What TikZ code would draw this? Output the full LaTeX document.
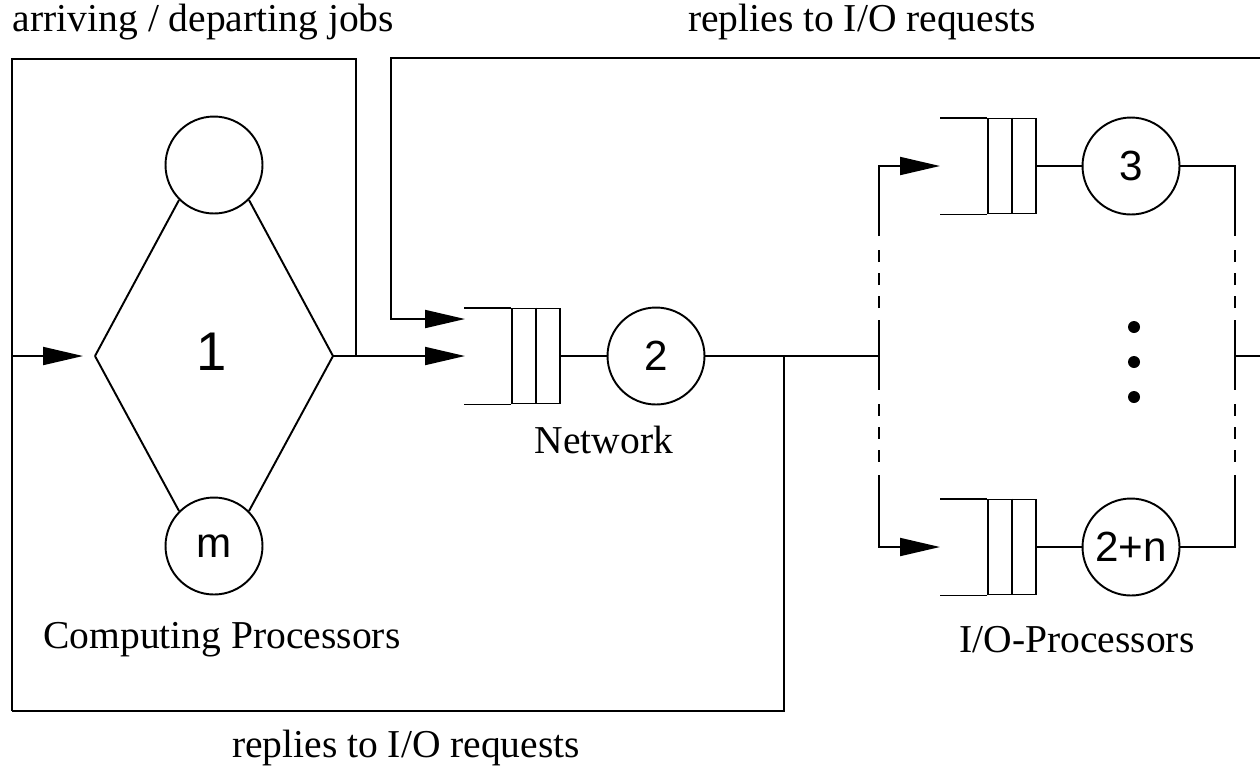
\documentclass[tikz,border=0pt]{standalone}
\usepackage{fontspec}
\setmainfont{Liberation Serif}
\setsansfont{Liberation Sans}
\usetikzlibrary{arrows.meta}

\begin{document}
\begin{tikzpicture}
        [x=0.02cm,y=-0.02cm,line width=1.1pt,
         server/.style={draw,shape=circle,inner sep=0,minimum size=1.94cm,font=\sffamily\fontsize{24}{28}\selectfont},
         buffer/.style={draw,shape=rectangle,inner sep=0,minimum width=0.95cm,minimum height=1.9cm},
         caption/.style={inner sep=0,font=\fontsize{22.5}{27}\selectfont},
         arr/.style={-{Triangle[length=0.8cm,width=0.36cm]}},
         gap/.style={dash pattern=on 0.24cm off 0.22cm}]

        \useasboundingbox (0,0) rectangle (1260,769);

        % computing processors
        \node[server] (cpu1) at (214,165) {};
        \node[server] (cpum) at (214,546) {m};
        \node[inner sep=0,font=\sffamily\fontsize{31}{35}\selectfont] (one) at (212,352) {1};
        \coordinate (dl) at (95,356);
        \coordinate (dr) at (333,356);
        \draw (dl) -- (cpu1.225);
        \draw (dl) -- (cpum.135);
        \draw (dr) -- (cpu1.315);
        \draw (dr) -- (cpum.45);

        % network
        \node[buffer] (q2) at (536,356) {};
        \draw (q2.north) -- (q2.south);
        \draw (q2.north west) -- ++(-47,0);
        \draw (q2.south west) -- ++(-47,0);
        \node[server] (net) at (656,356) {2};
        \draw (q2.east) -- (net);
        \coordinate (q2in) at (465,356);
        \coordinate (q2fb) at (465,319);

        % i/o processors
        \node[buffer] (q3) at (1012,166) {};
        \draw (q3.north) -- (q3.south);
        \draw (q3.north west) -- ++(-47,0);
        \draw (q3.south west) -- ++(-47,0);
        \node[server] (io3) at (1131,166) {3};
        \draw (q3.east) -- (io3);
        \coordinate (q3in) at (940,166);

        \node[buffer] (qn) at (1012,547) {};
        \draw (qn.north) -- (qn.south);
        \draw (qn.north west) -- ++(-47,0);
        \draw (qn.south west) -- ++(-47,0);
        \node[server] (ion) at (1131,547) {2+n};
        \draw (qn.east) -- (ion);
        \coordinate (qnin) at (940,547);

        \foreach \y in {327,362,397}
          \fill (1134,\y) circle (0.12cm);

        % fork and join
        \coordinate (fork) at (879,356);
        \coordinate (forkT) at (879,236);
        \coordinate (forkB) at (879,475);
        \coordinate (join) at (1235,356);
        \coordinate (joinT) at (1235,236);
        \coordinate (joinB) at (1235,475);

        \draw (net) -- (fork);
        \draw (fork) -- ++(0,-36) (fork) -- ++(0,34);
        \draw[gap] (fork) ++(0,-48) -- ++(0,-58) (fork) ++(0,48) -- ++(0,58);
        \draw[arr] (forkT) |- (q3in);
        \draw[arr] (forkB) |- (qnin);

        \draw (io3.east) -| (joinT);
        \draw (ion.east) -| (joinB);
        \draw (join) -- ++(0,-36) (join) -- ++(0,34);
        \draw[gap] (join) ++(0,-48) -- ++(0,-58) (join) ++(0,48) -- ++(0,58);

        % feedback loops
        \coordinate (src) at (12,356);
        \coordinate (bl) at (12,711);
        \coordinate (tl) at (12,59);
        \coordinate (tr) at (356,59);
        \coordinate (dep) at (356,356);
        \coordinate (tap) at (784,356);
        \coordinate (outR) at (1260,356);
        \coordinate (inT) at (1260,58);
        \coordinate (ret) at (391,58);

        \draw (bl) -- (tl) -- (tr) -- (dep);
        \draw[arr,shorten >=0.24cm] (src) -- (dl);
        \draw[arr] (dr) -- (q2in);
        \draw (tap) |- (bl);
        \draw (join) -- (outR);
        \draw[arr] (inT) -- (ret) |- (q2fb);

        % labels
        \node[caption,anchor=west] (jobs) at (12,22) {arriving / departing jobs};
        \node[caption] (replyT) at (862,22) {replies to I/O requests};
        \node[caption] (netlbl) at (604,440) {Network};
        \node[caption] (cpulbl) at (222,640) {Computing Processors};
        \node[caption] (iolbl) at (1077,640) {I/O-Processors};
        \node[caption] (replyB) at (406,748) {replies to I/O requests};
\end{tikzpicture}
\end{document}
